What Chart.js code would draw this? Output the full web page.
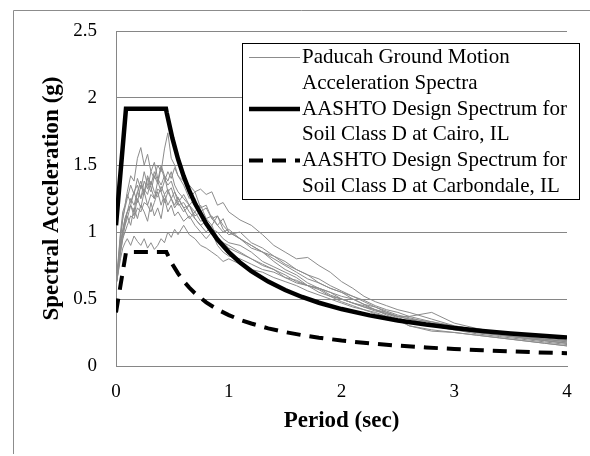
<!DOCTYPE html>
<html>
<head>
<meta charset="utf-8">
<script src="https://cdn.jsdelivr.net/npm/chart.js@4/dist/chart.umd.min.js"></script>
<style>
html,body{margin:0;padding:0;background:#fff;}
canvas{display:block;}
</style>
</head>
<body>
<canvas id="c" width="590" height="456"></canvas>
<script>
// ---- Data ----
const xTicks = [0, 1, 2, 3, 4];
const yTicks = [0, 0.5, 1, 1.5, 2, 2.5];

const seriesNames = [
  ["Paducah Ground Motion", "Acceleration Spectra"],
  ["AASHTO Design Spectrum for", "Soil Class D at Cairo, IL"],
  ["AASHTO Design Spectrum for", "Soil Class D at Carbondale, IL"]
];

// Cairo design spectrum (period, Sa)
const cairoT  = [0, 0.0885, 0.443, 0.45, 0.5, 0.55, 0.6, 0.65, 0.7, 0.8, 0.9, 1.0, 1.1, 1.2, 1.35, 1.5, 1.65, 1.8, 2.0, 2.25, 2.5, 2.75, 3.0, 3.25, 3.5, 3.75, 4.0];
const cairoSa = [1.05, 1.92, 1.92, 1.889, 1.70, 1.545, 1.417, 1.308, 1.214, 1.063, 0.944, 0.85, 0.773, 0.708, 0.630, 0.567, 0.515, 0.472, 0.425, 0.378, 0.34, 0.309, 0.283, 0.262, 0.243, 0.227, 0.2125];

// Carbondale design spectrum (period, Sa)
const carbT  = [0, 0.089, 0.447, 0.45, 0.5, 0.55, 0.6, 0.65, 0.7, 0.8, 0.9, 1.0, 1.1, 1.2, 1.35, 1.5, 1.65, 1.8, 2.0, 2.25, 2.5, 2.75, 3.0, 3.25, 3.5, 3.75, 4.0];
const carbSa = [0.40, 0.85, 0.85, 0.844, 0.76, 0.691, 0.633, 0.585, 0.543, 0.475, 0.422, 0.38, 0.345, 0.317, 0.281, 0.253, 0.230, 0.211, 0.19, 0.169, 0.152, 0.138, 0.127, 0.117, 0.109, 0.101, 0.095];

// Ground motion spectra periods
const gmT = [0, 0.02, 0.04, 0.06, 0.08, 0.1,
  0.13, 0.16, 0.19, 0.22, 0.25, 0.28, 0.31, 0.34, 0.37, 0.4, 0.43, 0.46, 0.49, 0.52, 0.55,
  0.6, 0.65, 0.7, 0.75, 0.8, 0.85, 0.9, 0.95, 1.0,
  1.1, 1.2, 1.3, 1.4, 1.5, 1.6, 1.7, 1.8, 1.9, 2.0, 2.1, 2.2, 2.3, 2.4, 2.5, 2.6,
  2.8, 3.0, 3.2, 3.4, 3.6, 3.8, 4.0];

const gm1 = [0.6, 0.75, 0.9, 1.0, 1.05, 1.1,
  1.2, 1.15, 1.3, 1.25, 1.38, 1.32, 1.45, 1.4, 1.5, 1.45, 1.62, 1.74, 1.55, 1.5, 1.42,
  1.35, 1.25, 1.3, 1.18, 1.2, 1.1, 1.12, 1.05, 1.0,
  0.95, 0.88, 0.85, 0.78, 0.72, 0.68, 0.62, 0.58, 0.55, 0.52, 0.5, 0.46, 0.44, 0.41, 0.38, 0.36,
  0.32, 0.29, 0.26, 0.24, 0.22, 0.2, 0.19];
const gm2 = [0.6, 0.75, 0.95, 1.1, 1.2, 1.3,
  1.42, 1.38, 1.55, 1.63, 1.5, 1.58, 1.45, 1.52, 1.4, 1.35, 1.42, 1.3, 1.33, 1.25, 1.2,
  1.22, 1.15, 1.1, 1.05, 1.08, 1.0, 0.95, 0.92, 0.9,
  0.85, 0.8, 0.76, 0.72, 0.66, 0.62, 0.6, 0.55, 0.52, 0.5, 0.47, 0.44, 0.42, 0.39, 0.37, 0.35,
  0.31, 0.28, 0.25, 0.23, 0.21, 0.19, 0.17];
const gm3 = [0.6, 0.72, 0.85, 0.95, 1.0, 1.05,
  1.12, 1.1, 1.18, 1.15, 1.22, 1.2, 1.28, 1.25, 1.32, 1.3, 1.38, 1.45, 1.4, 1.48, 1.42,
  1.38, 1.35, 1.3, 1.32, 1.28, 1.3, 1.2, 1.22, 1.15,
  1.09, 1.05, 0.98, 0.9, 0.85, 0.8, 0.81, 0.75, 0.7, 0.63, 0.58, 0.52, 0.48, 0.45, 0.42, 0.4,
  0.35, 0.3, 0.27, 0.25, 0.23, 0.21, 0.19];
const gm4 = [0.6, 0.78, 0.98, 1.1, 1.18, 1.25,
  1.35, 1.28, 1.4, 1.32, 1.45, 1.35, 1.3, 1.42, 1.36, 1.48, 1.4, 1.35, 1.38, 1.3, 1.25,
  1.18, 1.2, 1.12, 1.15, 1.05, 1.02, 1.0, 0.95, 0.92,
  0.9, 0.85, 0.78, 0.74, 0.7, 0.66, 0.6, 0.57, 0.52, 0.48, 0.45, 0.42, 0.4, 0.37, 0.35, 0.33,
  0.3, 0.27, 0.24, 0.22, 0.2, 0.18, 0.16];
const gm5 = [0.6, 0.7, 0.85, 0.95, 1.05, 1.15,
  1.2, 1.3, 1.22, 1.35, 1.28, 1.4, 1.33, 1.25, 1.38, 1.3, 1.22, 1.3, 1.25, 1.2, 1.26,
  1.18, 1.1, 1.15, 1.08, 1.1, 1.05, 1.12, 1.02, 0.98,
  1.0, 0.92, 0.88, 0.82, 0.78, 0.72, 0.68, 0.65, 0.6, 0.56, 0.52, 0.48, 0.44, 0.4, 0.37, 0.35,
  0.33, 0.29, 0.26, 0.24, 0.22, 0.2, 0.18];
const gm6 = [0.6, 0.75, 0.9, 1.0, 1.08, 1.12,
  1.05, 1.18, 1.1, 1.2, 1.15, 1.08, 1.22, 1.12, 1.18, 1.1, 1.25, 1.15, 1.2, 1.12, 1.15,
  1.08, 1.12, 1.05, 1.0, 0.95, 1.0, 0.9, 0.85, 0.82,
  0.8, 0.76, 0.72, 0.7, 0.66, 0.64, 0.6, 0.58, 0.55, 0.5, 0.47, 0.44, 0.41, 0.39, 0.36, 0.33,
  0.3, 0.27, 0.25, 0.23, 0.21, 0.19, 0.17];
const gm7 = [0.6, 0.7, 0.8, 0.88, 0.92, 0.95,
  0.9, 0.97, 0.93, 0.9, 0.95, 0.88, 0.92, 0.87, 0.9, 0.95, 0.92, 1.0, 0.96, 1.02, 0.98,
  1.05, 0.98, 0.95, 0.9, 0.88, 0.85, 0.82, 0.78, 0.8,
  0.76, 0.72, 0.7, 0.66, 0.63, 0.6, 0.56, 0.53, 0.5, 0.47, 0.44, 0.42, 0.39, 0.37, 0.34, 0.3,
  0.27, 0.25, 0.23, 0.21, 0.19, 0.17, 0.15];
const gm8 = [0.6, 0.8, 1.0, 1.15, 1.2, 1.28,
  1.22, 1.3, 1.35, 1.25, 1.32, 1.28, 1.38, 1.3, 1.26, 1.34, 1.28, 1.2, 1.25, 1.18, 1.22,
  1.15, 1.2, 1.1, 1.05, 1.0, 1.05, 0.95, 0.92, 0.88,
  0.84, 0.8, 0.75, 0.72, 0.68, 0.63, 0.6, 0.58, 0.53, 0.5, 0.47, 0.45, 0.42, 0.4, 0.37, 0.37,
  0.4, 0.32, 0.28, 0.25, 0.22, 0.2, 0.18];
const gm9 = [0.6, 0.72, 0.88, 1.0, 1.1, 1.15,
  1.25, 1.2, 1.3, 1.38, 1.3, 1.42, 1.35, 1.45, 1.38, 1.5, 1.42, 1.38, 1.45, 1.35, 1.3,
  1.25, 1.2, 1.15, 1.2, 1.1, 1.12, 1.05, 1.0, 1.02,
  0.95, 0.9, 0.85, 0.8, 0.75, 0.7, 0.65, 0.62, 0.58, 0.55, 0.5, 0.46, 0.42, 0.38, 0.35, 0.3,
  0.26, 0.25, 0.23, 0.21, 0.19, 0.17, 0.15];
const gm10 = [0.6, 0.74, 0.9, 1.02, 1.1, 1.15,
  1.2, 1.12, 1.25, 1.18, 1.3, 1.2, 1.15, 1.22, 1.3, 1.2, 1.28, 1.32, 1.25, 1.3, 1.22,
  1.28, 1.2, 1.25, 1.15, 1.18, 1.1, 1.05, 1.1, 1.0,
  0.95, 0.9, 0.85, 0.82, 0.76, 0.72, 0.68, 0.62, 0.58, 0.55, 0.52, 0.49, 0.45, 0.42, 0.4, 0.37,
  0.33, 0.3, 0.27, 0.24, 0.21, 0.19, 0.17];
const groundMotions = [gm1, gm2, gm3, gm4, gm5, gm6, gm7, gm8, gm9, gm10];

// ---- Build datasets ----
function pts(xs, ys) { return ys.map((y, i) => ({ x: xs[i], y: y })); }
const FONT = "'Liberation Serif', 'Times New Roman', serif";
const GRID = '#868686';

const datasets = [
  { label: seriesNames[1].join(' '), data: pts(cairoT, cairoSa), borderColor: '#000', borderWidth: 4.5, pointRadius: 0, order: 0, tension: 0, legendIdx: 1 },
  { label: seriesNames[2].join(' '), data: pts(carbT, carbSa), borderColor: '#000', borderWidth: 4, borderDash: [14, 9], pointRadius: 0, order: 0, tension: 0, legendIdx: 2 }
];
groundMotions.forEach((g, k) => {
  datasets.push({ label: seriesNames[0].join(' '), data: pts(gmT, g), borderColor: '#8c8c8c', borderWidth: 1, pointRadius: 0, order: 1, tension: 0, legendIdx: k === 0 ? 0 : -1 });
});

const frame = {
  id: 'frame',
  beforeDraw(chart) {
    const ctx = chart.ctx;
    ctx.save();
    ctx.fillStyle = '#fff';
    ctx.fillRect(0, 0, chart.width, chart.height);
    ctx.strokeStyle = '#8c8c8c';
    ctx.lineWidth = 1;
    ctx.beginPath();
    ctx.moveTo(13.5, 454);
    ctx.lineTo(13.5, 10.5);
    ctx.lineTo(590, 10.5);
    ctx.stroke();
    ctx.restore();
  }
};

const boxLegend = {
  id: 'boxLegend',
  afterDraw(chart) {
    const ctx = chart.ctx;
    ctx.save();
    const bx = 242.5, by = 43.5, bw = 337, bh = 156;
    ctx.fillStyle = '#fff';
    ctx.fillRect(bx, by, bw, bh);
    ctx.strokeStyle = '#000';
    ctx.lineWidth = 1;
    ctx.strokeRect(bx, by, bw, bh);
    ctx.font = '21px ' + FONT;
    ctx.fillStyle = '#000';
    ctx.textBaseline = 'middle';
    ctx.textAlign = 'left';
    const firstY = 57.5, itemGap = 51.5, lineGap = 25.5;
    chart.data.datasets.forEach(ds => {
      if (ds.legendIdx < 0) return;
      const i = ds.legendIdx;
      const y = firstY + i * itemGap;
      ctx.beginPath();
      ctx.strokeStyle = ds.borderColor;
      ctx.lineWidth = ds.borderWidth;
      ctx.setLineDash(ds.borderDash || []);
      ctx.moveTo(249, y);
      ctx.lineTo(300, y);
      ctx.stroke();
      ctx.setLineDash([]);
      seriesNames[i].forEach((t, j) => ctx.fillText(t, 302, y + j * lineGap));
    });
    ctx.restore();
  }
};

new Chart(document.getElementById('c'), {
  type: 'line',
  data: { datasets },
  options: {
    responsive: false,
    animation: false,
    devicePixelRatio: 1,
    layout: { padding: { top: 31, right: 23, left: 0, bottom: 0 } },
    plugins: { legend: { display: false }, tooltip: { enabled: false } },
    scales: {
      x: {
        type: 'linear', min: 0, max: 4,
        afterBuildTicks: s => { s.ticks = xTicks.map(v => ({ value: v })); },
        afterFit: s => { s.height = 90; },
        grid: { display: false, drawTicks: false },
        border: { display: true, color: GRID, width: 1 },
        ticks: { color: '#000', font: { family: FONT, size: 19 }, padding: 15, maxRotation: 0, callback: v => String(v) },
        title: { display: true, text: 'Period (sec)', color: '#000', font: { family: FONT, size: 23, weight: 'bold' }, padding: { bottom: 21 } }
      },
      y: {
        type: 'linear', min: 0, max: 2.5,
        afterBuildTicks: s => { s.ticks = yTicks.map(v => ({ value: v })); },
        afterFit: s => { s.width = 116; },
        grid: { display: true, color: GRID, lineWidth: 1, drawTicks: false },
        border: { display: true, color: GRID, width: 1 },
        ticks: { color: '#000', font: { family: FONT, size: 19 }, padding: 19, callback: v => String(v) },
        title: { display: true, text: 'Spectral Acceleration (g)', color: '#000', font: { family: FONT, size: 23, weight: 'bold' }, padding: { top: 38 } }
      }
    }
  },
  plugins: [frame, boxLegend]
});
</script>
</body>
</html>
